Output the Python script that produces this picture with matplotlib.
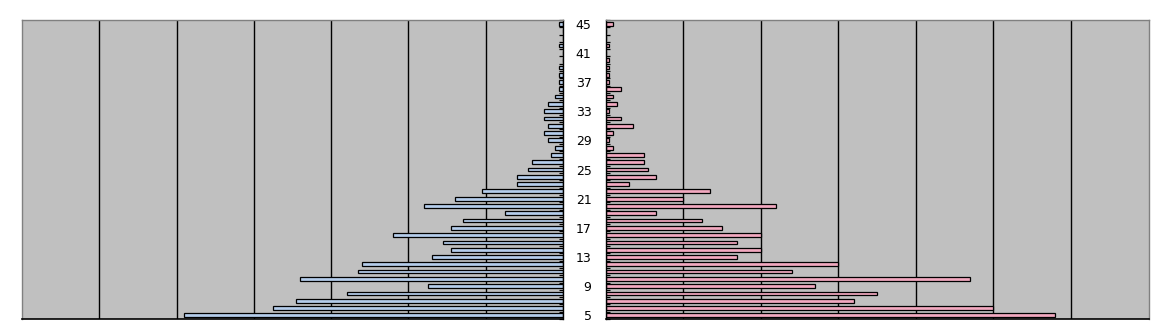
import numpy as np
import matplotlib.pyplot as plt
from matplotlib.ticker import MultipleLocator

ages = list(range(5, 46))
left_counts = [98, 75, 69, 56, 35, 68, 53, 52, 34, 29,
               31, 44, 29, 26, 15, 36, 28, 21, 12, 12,
               9, 8, 3, 2, 4, 5, 4, 5, 5, 4,
               2, 1, 1, 1, 1, 0, 0, 1, 0, 0, 1]
right_counts = [116, 100, 64, 70, 54, 94, 48, 60, 34, 40,
                34, 40, 30, 25, 13, 44, 20, 27, 6, 13,
                11, 10, 10, 2, 1, 2, 7, 4, 1, 3,
                2, 4, 1, 1, 1, 1, 0, 1, 0, 0, 2]
age_labels = [str(a) for a in range(5, 46, 4)]

W, H = 1172, 334
fig = plt.figure(figsize=(W / 100, H / 100), dpi=100)
bottom = 1 - 319 / H
height = (319 - 20) / H
ax_l = fig.add_axes([22 / W, bottom, (563 - 22) / W, height])
ax_r = fig.add_axes([605.5 / W, bottom, (1148.5 - 605.5) / W, height])

bg = '#c0c0c0'
for ax, vals, col in ((ax_l, left_counts, '#b5cdeb'), (ax_r, right_counts, '#f2a9c0')):
    ax.set_facecolor(bg)
    for g in range(20, 140, 20):
        ax.axvline(g, color='black', lw=1.0, zorder=1)
    ax.barh(ages, vals, height=0.52, color=col, edgecolor='black', lw=0.9, zorder=2)
    ax.set_xlim(0, 140)
    ax.set_ylim(4.5, 45.5)
    ax.set_xticks([])
    ax.yaxis.set_minor_locator(MultipleLocator(1, offset=0.5))
    ax.tick_params(axis='y', which='minor', direction='in', length=3, width=0.9, color='black')
    ax.tick_params(axis='y', which='major', length=0)
    for s in ('top', 'left', 'right'):
        ax.spines[s].set_color('#808080')
        ax.spines[s].set_linewidth(1.0)
    ax.spines['bottom'].set_color('black')
    ax.spines['bottom'].set_linewidth(1.2)

# left panel grows leftwards, zero axis on its right edge
ax_l.invert_xaxis()
ax_l.yaxis.set_ticks_position('right')
ax_l.spines['right'].set_color('black')
ax_l.set_yticks([])
ax_l.yaxis.set_minor_locator(MultipleLocator(1, offset=0.5))
ax_l.tick_params(axis='y', which='minor', direction='in', length=3, width=0.9,
                 right=True, left=False)

# age labels sit in the gap, right-aligned against the right panel
ax_r.yaxis.set_ticks_position('left')
ax_r.spines['left'].set_color('black')
ax_r.set_yticks(range(5, 46, 4))
ax_r.set_yticklabels(age_labels, fontsize=9, family='DejaVu Sans')
ax_r.tick_params(axis='y', which='major', pad=10, length=0)

fig.savefig('out.png', dpi=100, facecolor='white')
